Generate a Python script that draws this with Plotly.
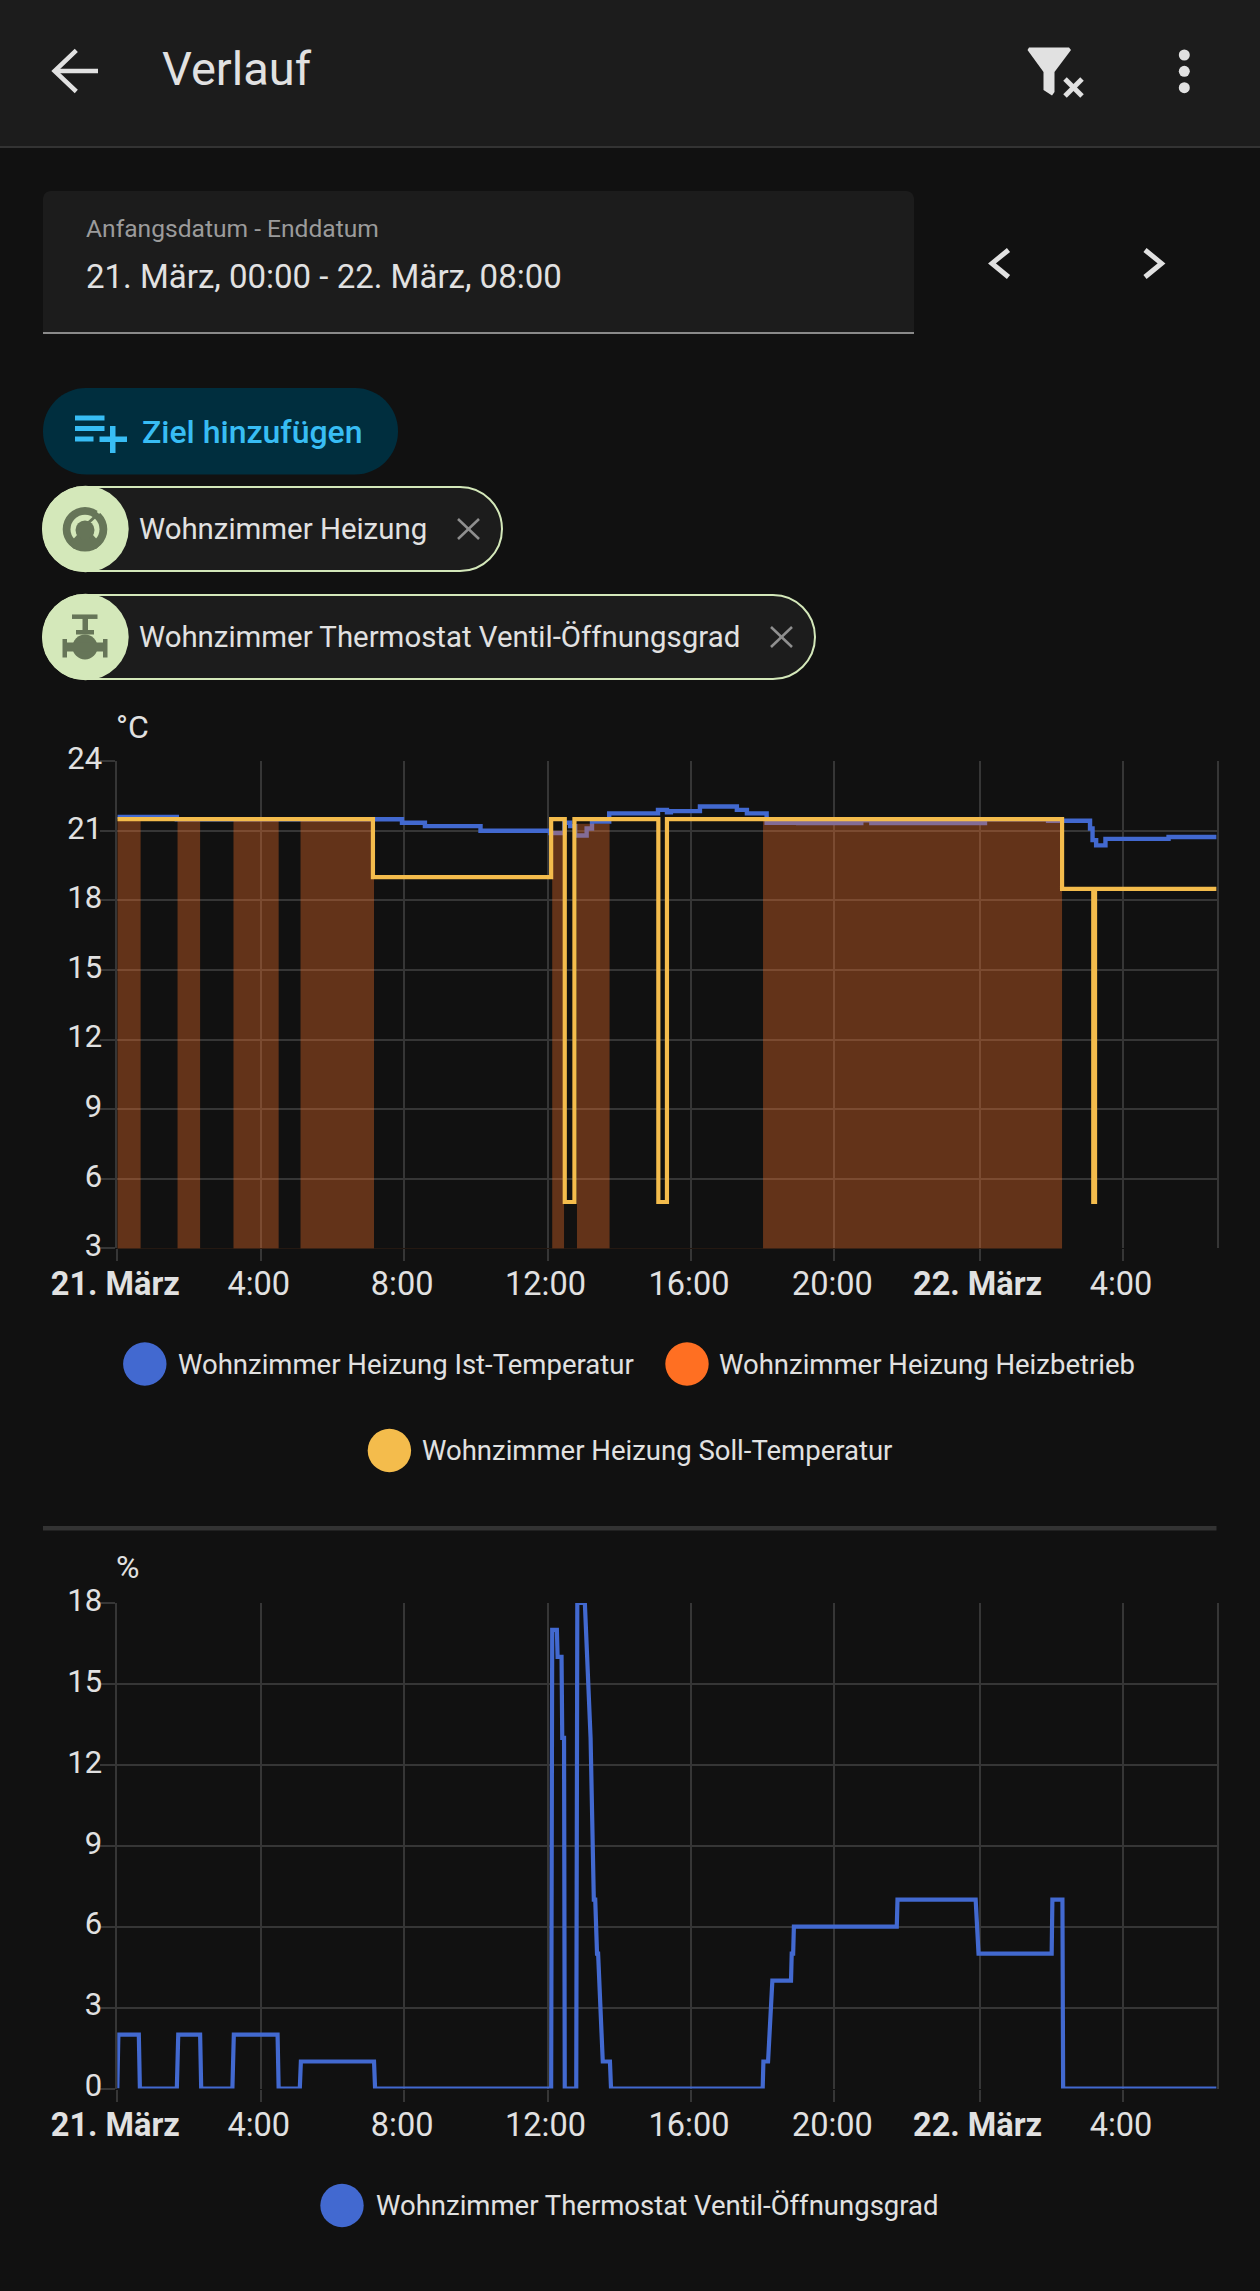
import plotly.graph_objects as go

W, H = 1260, 2291
BG = "#111111"
BAR = "#1c1c1c"
TEXT = "#e1e1e1"
GRID = "#363636"
BLUE = "#4269d0"
ORANGE = "#ff6f22"
YELLOW = "#f4bc4c"
CHIP = "#d4e8ba"
CHIP_ICON = "#667558"
CYAN = "#38bdf4"

# hours since 21. März 00:00
tick_hours = [0, 4, 8, 12, 16, 20, 24.05, 28.05]
tick_labels = ["<b>21. März</b>", "4:00", "8:00", "12:00", "16:00", "20:00", "<b>22. März</b>", "4:00"]
x_end = 30.66

ist_hours = [0, 1.66, 7.94, 8.58, 10.13, 12.08, 12.47, 12.63, 12.77, 13.09, 13.24, 13.72, 15.08, 15.33, 15.44,
             16.25, 17.28, 17.56, 18.11, 18.99, 20.75, 21.03, 24.2, 25.96, 27.13, 27.2, 27.3, 27.56, 29.32, 30.66]
ist_temp = [21.6, 21.5, 21.35, 21.2, 21.0, 20.9, 21.35, 21.2, 20.8, 21.1, 21.4, 21.75, 21.9, 21.8, 21.85,
            22.05, 21.9, 21.75, 21.35, 21.33, 21.45, 21.33, 21.5, 21.43, 21.1, 20.6, 20.37, 20.65, 20.73, 20.73]

soll_hours = [0, 7.13, 12.10, 12.48, 12.75, 15.09, 15.33, 26.35, 27.22, 27.27, 30.66]
soll_temp = [21.5, 19, 21.5, 5, 21.5, 5, 21.5, 18.5, 5, 18.5, 18.5]

heiz_hours = [0, 0.65, 1.68, 2.31, 3.24, 4.50, 5.11, 7.16, 12.13, 12.46, 12.82, 13.73, 18.01, 26.35]
heiz_top = [21.5, 3, 21.5, 3, 21.5, 3, 21.5, 3, 21, 3, 21.3, 3, 21.5, 3]

ventil_hours = [0, 0.03, 0.6, 0.63, 1.66, 1.7, 2.31, 2.34, 3.21, 3.25, 4.47, 4.5, 5.09, 5.12, 7.16, 7.19, 12.1,
                12.13, 12.26, 12.28, 12.39, 12.41, 12.46, 12.48, 12.8, 12.83, 13.04, 13.2, 13.29, 13.33, 13.38,
                13.41, 13.54, 13.56, 13.74, 13.77, 18.0, 18.02, 18.15, 18.27, 18.79, 18.81, 18.85, 18.87, 21.74,
                21.76, 23.94, 24.02, 26.06, 26.08, 26.36, 26.38, 30.66]
ventil_pct = [0, 2, 2, 0, 0, 2, 2, 0, 0, 2, 2, 0, 0, 1, 1, 0, 0,
              17, 17, 16, 16, 13, 13, 0, 0, 18, 18, 13, 7, 7, 5,
              5, 1, 1, 1, 0, 0, 1, 1, 4, 4, 5, 5, 6, 6,
              7, 7, 5, 5, 7, 7, 0, 0]

temp_ticks = [3, 6, 9, 12, 15, 18, 21, 24]
pct_ticks = [0, 3, 6, 9, 12, 15, 18]


def sx(x):
    return x / W


def sy(y):
    return 1 - y / H


def path(points, close=False):
    d = "M" + " L".join(f"{sx(x)},{sy(y)}" for x, y in points)
    return d + (" Z" if close else "")


def corner(x0, y0, cx0, cy0, cx1, cy1, x1, y1):
    return f"C{sx(cx0)},{sy(cy0)} {sx(cx1)},{sy(cy1)} {sx(x1)},{sy(y1)} "


def round_rect(x0, y0, x1, y1, r, bottom=True):
    # rounded box as a paper path, bottom corners optional
    rb = r if bottom else 0
    k = r * 0.448
    kb = rb * 0.448
    p = f"M{sx(x0 + r)},{sy(y0)} L{sx(x1 - r)},{sy(y0)} "
    p += corner(x1 - r, y0, x1 - k, y0, x1, y0 + k, x1, y0 + r)
    p += f"L{sx(x1)},{sy(y1 - rb)} "
    p += corner(x1, y1 - rb, x1, y1 - kb, x1 - kb, y1, x1 - rb, y1)
    p += f"L{sx(x0 + rb)},{sy(y1)} "
    p += corner(x0 + rb, y1, x0 + kb, y1, x0, y1 - kb, x0, y1 - rb)
    p += f"L{sx(x0)},{sy(y0 + r)} "
    p += corner(x0, y0 + r, x0, y0 + k, x0 + k, y0, x0 + r, y0)
    return p + "Z"


shapes = []
annotations = []


def fill_path(d, color, line=None, width=0):
    shapes.append(dict(type="path", path=d, xref="paper", yref="paper", fillcolor=color,
                       line=dict(color=line or color, width=width), layer="above"))


def stroke(points, color, width):
    shapes.append(dict(type="path", path=path(points), xref="paper", yref="paper",
                       line=dict(color=color, width=width), layer="above"))


def poly(points, color):
    fill_path(path(points, True), color)


def rect(x0, y0, x1, y1, color):
    shapes.append(dict(type="rect", xref="paper", yref="paper", x0=sx(x0), x1=sx(x1), y0=sy(y1), y1=sy(y0),
                       fillcolor=color, line=dict(width=0), layer="above"))


def circle(cx, cy, r, color):
    shapes.append(dict(type="circle", xref="paper", yref="paper", x0=sx(cx - r), x1=sx(cx + r), y0=sy(cy + r),
                       y1=sy(cy - r), fillcolor=color, line=dict(width=0), layer="above"))


def label(x, y, text, size, color=TEXT, weight=None):
    annotations.append(dict(x=sx(x), y=sy(y), xref="paper", yref="paper", text=text, showarrow=False,
                            xanchor="left", yanchor="middle", align="left", borderpad=0, borderwidth=0,
                            font=dict(family="Roboto", size=size, color=color, weight=weight)))


# app bar
rect(0, 0, W, 146, BAR)
rect(0, 146, W, 148, "#333333")
stroke([(76.3, 50.4), (54.6, 71), (76.3, 91.5)], TEXT, 4.5)
stroke([(55, 71), (98, 71)], TEXT, 4.5)
label(162, 69, "Verlauf", 47)
poly([(1029, 47.5), (1069, 47.5), (1071, 50), (1054.5, 72), (1054.5, 92), (1052, 95.5), (1043.5, 90), (1043.5, 72),
      (1027.5, 50)], TEXT)
stroke([(1065, 79), (1082, 96)], TEXT, 5)
stroke([(1082, 79), (1065, 96)], TEXT, 5)
for dot_y in [55, 71.3, 87.7]:
    circle(1184.3, dot_y, 5.5, TEXT)

# date field
fill_path(round_rect(43, 191, 914, 333, 8, bottom=False), BAR)
rect(43, 332, 914, 334, "#8a8a8a")
label(86, 228.5, "Anfangsdatum - Enddatum", 24.6, "#9b9b9b")
label(86, 277, "21. März, 00:00 - 22. März, 08:00", 33)
stroke([(1008.5, 250), (992, 263.4), (1008.5, 277)], TEXT, 5)
stroke([(1145, 250), (1161.5, 263.4), (1145, 277)], TEXT, 5)

# add button
fill_path(round_rect(43, 388, 398, 474.5, 43), "#002e3e")
for y0, x1 in [(415.5, 104.5), (426, 104.5), (436.5, 93.5)]:
    rect(75, y0, x1, y0 + 5, CYAN)
rect(99.5, 436.5, 127, 442, CYAN)
rect(110, 426, 115.5, 453, CYAN)
label(142, 432, "Ziel hinzufügen", 32, CYAN, 500)

# entity chips
for y0, y1, x1, text in [(487, 571, 502, "Wohnzimmer Heizung"),
                         (595, 679, 815, "Wohnzimmer Thermostat Ventil-Öffnungsgrad")]:
    cy = (y0 + y1) / 2
    fill_path(round_rect(43, y0, x1, y1, 42), BAR, CHIP, 2)
    circle(85.5, cy, 43.2, CHIP)
    label(139, cy, text, 29.4)
    stroke([(x1 - 44, cy - 10), (x1 - 23, cy + 10)], "#8f8f8f", 2.5)
    stroke([(x1 - 23, cy - 10), (x1 - 44, cy + 10)], "#8f8f8f", 2.5)

# gauge icon
circle(85, 529.3, 22.3, CHIP_ICON)
circle(85, 529.3, 14.5, CHIP)
poly([(77, 535), (93, 535), (101, 544), (96, 549), (74, 549), (69, 544)], CHIP_ICON)
circle(85, 530, 9.5, CHIP_ICON)
stroke([(87, 524), (98, 514)], CHIP_ICON, 3)
stroke([(98, 513), (102, 508)], CHIP, 3)

# valve icon
stroke([(72, 616.7), (97.5, 616.7)], CHIP_ICON, 4.5)
rect(82.5, 617, 88, 630, CHIP_ICON)
rect(76, 630, 94, 634.5, CHIP_ICON)
circle(85, 647, 12.5, CHIP_ICON)
rect(66, 642.5, 104, 651.5, CHIP_ICON)
rect(62.5, 639, 67, 657.5, CHIP_ICON)
rect(103, 639, 107.5, 657.5, CHIP_ICON)

# first chart extras
label(116, 727, "°C", 32)
for cx, cy, color, text_x, text in [(144.8, 1364, BLUE, 178, "Wohnzimmer Heizung Ist-Temperatur"),
                                    (687, 1364, ORANGE, 719, "Wohnzimmer Heizung Heizbetrieb"),
                                    (389.4, 1450.5, YELLOW, 422, "Wohnzimmer Heizung Soll-Temperatur"),
                                    (342, 2205.5, BLUE, 376, "Wohnzimmer Thermostat Ventil-Öffnungsgrad")]:
    circle(cx, cy, 21.7, color)
    label(text_x, cy, text, 27.5)

rect(43, 1526, 1216.5, 1530.5, "#333333")
label(116, 1567, "%", 32)

fig = go.Figure()
fig.add_trace(go.Scatter(x=ist_hours, y=ist_temp, mode="lines", line=dict(color=BLUE, width=4.4, shape="hv"),
                         cliponaxis=False, name="Wohnzimmer Heizung Ist-Temperatur"))
fig.add_trace(go.Scatter(x=heiz_hours, y=heiz_top, mode="lines", line=dict(width=0, shape="hv"),
                         fill="tozeroy", fillcolor="rgba(255,115,40,0.345)", name="Wohnzimmer Heizung Heizbetrieb"))
fig.add_trace(go.Scatter(x=soll_hours, y=soll_temp, mode="lines", line=dict(color=YELLOW, width=4.2, shape="hv"),
                         cliponaxis=False, name="Wohnzimmer Heizung Soll-Temperatur"))
fig.add_trace(go.Scatter(x=ventil_hours, y=ventil_pct, mode="lines", line=dict(color=BLUE, width=4.2),
                         cliponaxis=False, xaxis="x2", yaxis="y2", name="Wohnzimmer Thermostat Ventil-Öffnungsgrad"))

x_style = dict(range=[0, x_end], tickmode="array", tickvals=tick_hours, ticktext=tick_labels, automargin=False,
               showgrid=True, gridcolor=GRID, gridwidth=2, zeroline=False, ticks="outside", ticklen=12,
               tickwidth=2, tickcolor=GRID, tickfont=dict(family="Roboto", size=32.5, color=TEXT), tickangle=0,
               ticklabelstandoff=-5, ticklabelshift=-2, showline=False)
y_style = dict(tickmode="array", showgrid=True, gridcolor=GRID, gridwidth=2, zeroline=False, ticks="outside",
               ticklen=15, tickwidth=2, tickcolor=GRID, tickfont=dict(family="Roboto", size=31, color=TEXT),
               ticklabelstandoff=-8, ticklabelshift=-3, showline=True, mirror=True, linecolor=GRID, linewidth=2,
               automargin=False)

fig.update_layout(
    width=W, height=H, autosize=False, showlegend=False, paper_bgcolor=BG, plot_bgcolor=BG,
    margin=dict(l=0, r=0, t=0, b=0), shapes=shapes, annotations=annotations,
    xaxis=dict(domain=[sx(117.3), sx(1216.6)], anchor="y", **x_style),
    yaxis=dict(domain=[sy(1248.4), sy(761.2)], anchor="x", range=[3, 24], tickvals=temp_ticks, **y_style),
    xaxis2=dict(domain=[sx(117.3), sx(1216.6)], anchor="y2", **x_style),
    yaxis2=dict(domain=[sy(2088.5), sy(1602.9)], anchor="x2", range=[0, 18], tickvals=pct_ticks, **y_style),
)

fig.write_html("out.html", config={"displayModeBar": False},
               post_script="document.body.style.margin='0';document.body.style.background='#111111';"
                           "document.documentElement.style.overflow='hidden';")
